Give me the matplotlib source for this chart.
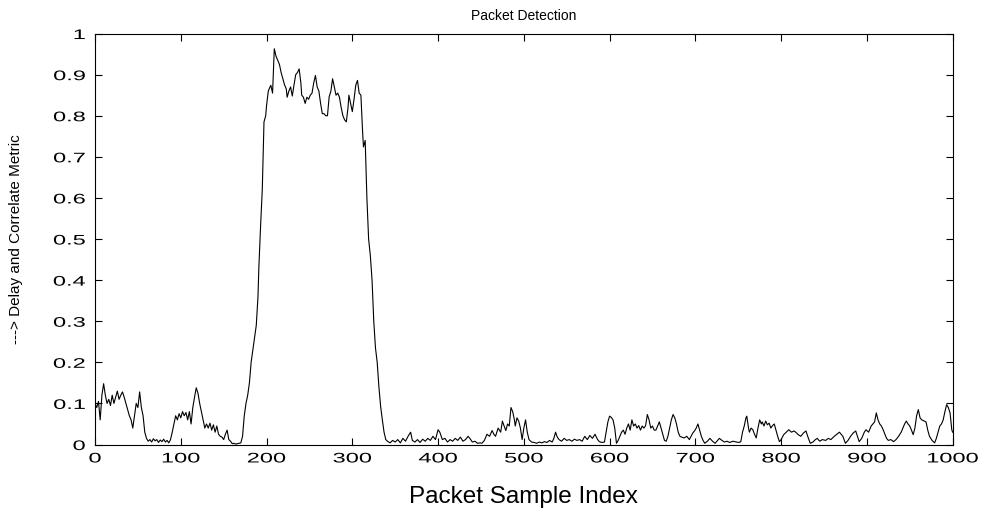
import matplotlib
matplotlib.use("Agg")
import matplotlib.pyplot as plt
from matplotlib.patheffects import AbstractPathEffect
from matplotlib.transforms import Affine2D

# sample index / delay-and-correlate metric
sample_idx = [
    0, 2, 4, 6, 8, 10, 12, 14, 16, 18, 20, 22, 24, 26, 28, 30, 32, 34, 36, 38,
    40, 42, 44, 46, 48, 50, 52, 54, 56, 58, 60, 62, 64, 66, 68, 70, 72, 74, 76, 78,
    80, 82, 84, 86, 88, 90, 92, 94, 96, 98, 100, 102, 104, 106, 108, 110, 112, 114, 116, 118,
    120, 122, 124, 126, 128, 130, 132, 134, 136, 138, 140, 142, 144, 146, 148, 150, 152, 154, 156, 158,
    160, 162, 164, 166, 168, 170, 172, 174, 176, 178, 180, 182, 184, 186, 188, 190, 191, 193, 195, 197,
    199, 200, 202, 204, 205, 207, 209, 211, 213, 215, 217, 219, 221, 223, 224, 226, 228, 230, 232, 234,
    236, 238, 240, 241, 243, 245, 247, 249, 251, 253, 255, 257, 259, 261, 263, 265, 267, 269, 271, 273,
    275, 277, 279, 281, 283, 285, 287, 289, 291, 293, 295, 296, 298, 300, 302, 304, 306, 308, 310, 312,
    313, 315, 317, 319, 321, 323, 325, 327, 329, 331, 333, 335, 337, 339, 341, 344, 347, 350, 353, 356,
    359, 362, 365, 368, 370, 373, 376, 379, 382, 385, 388, 391, 394, 397, 400, 402, 405, 408, 411, 414,
    417, 420, 423, 426, 429, 432, 435, 437, 440, 443, 446, 449, 451, 454, 457, 460, 463, 465, 467, 470,
    473, 475, 477, 479, 481, 483, 485, 487, 489, 490, 492, 494, 496, 498, 500, 502, 504, 506, 509, 512,
    515, 518, 521, 524, 527, 530, 533, 535, 537, 539, 541, 544, 547, 550, 553, 556, 559, 562, 565, 568,
    571, 574, 577, 580, 583, 586, 588, 591, 594, 596, 598, 600, 602, 604, 606, 608, 610, 612, 614, 616,
    618, 620, 622, 624, 626, 628, 630, 632, 634, 636, 638, 640, 642, 644, 646, 648, 650, 652, 654, 656,
    658, 660, 662, 664, 666, 668, 670, 672, 674, 676, 678, 680, 682, 684, 687, 690, 693, 695, 697, 699,
    701, 703, 705, 707, 709, 711, 714, 717, 720, 723, 726, 728, 731, 734, 737, 740, 744, 748, 751, 753,
    755, 757, 759, 760, 762, 763, 765, 767, 769, 771, 773, 775, 777, 778, 780, 782, 784, 786, 788, 790,
    792, 794, 796, 798, 800, 803, 806, 809, 812, 815, 817, 820, 823, 826, 829, 831, 834, 837, 840, 842,
    845, 848, 852, 855, 858, 862, 865, 868, 870, 872, 875, 878, 881, 884, 887, 889, 891, 894, 897, 899,
    902, 905, 907, 909, 911, 913, 915, 917, 919, 921, 923, 925, 928, 931, 934, 937, 940, 942, 944, 946,
    948, 950, 952, 954, 956, 958, 960, 962, 964, 966, 969, 971, 973, 976, 979, 981, 983, 985, 987, 989,
    991, 993, 995, 997, 999, 1000,
]
metric = [
    0.100, 0.090, 0.105, 0.060, 0.120, 0.148, 0.120, 0.100, 0.110, 0.095, 0.120, 0.100, 0.115, 0.130, 0.110, 0.120, 0.128, 0.115, 0.100, 0.085,
    0.070, 0.060, 0.040, 0.070, 0.100, 0.090, 0.128, 0.090, 0.070, 0.030, 0.015, 0.008, 0.012, 0.006, 0.014, 0.009, 0.012, 0.005, 0.011, 0.007,
    0.013, 0.006, 0.010, 0.004, 0.012, 0.030, 0.050, 0.070, 0.060, 0.075, 0.065, 0.080, 0.070, 0.078, 0.060, 0.080, 0.050, 0.090, 0.115, 0.138,
    0.125, 0.100, 0.080, 0.060, 0.040, 0.050, 0.040, 0.052, 0.035, 0.048, 0.030, 0.045, 0.025, 0.020, 0.018, 0.012, 0.025, 0.035, 0.012, 0.008,
    0.002, 0.003, 0.001, 0.002, 0.003, 0.004, 0.020, 0.070, 0.100, 0.120, 0.150, 0.200, 0.230, 0.260, 0.290, 0.360, 0.430, 0.530, 0.620, 0.785,
    0.800, 0.825, 0.860, 0.870, 0.874, 0.855, 0.963, 0.945, 0.935, 0.925, 0.905, 0.890, 0.875, 0.865, 0.845, 0.860, 0.870, 0.848, 0.875, 0.900,
    0.905, 0.914, 0.880, 0.850, 0.845, 0.830, 0.845, 0.840, 0.850, 0.855, 0.880, 0.898, 0.870, 0.860, 0.830, 0.805, 0.805, 0.800, 0.800, 0.846,
    0.860, 0.890, 0.870, 0.850, 0.855, 0.845, 0.820, 0.800, 0.790, 0.785, 0.820, 0.850, 0.830, 0.810, 0.840, 0.874, 0.886, 0.855, 0.850, 0.760,
    0.724, 0.740, 0.600, 0.500, 0.460, 0.400, 0.300, 0.235, 0.200, 0.140, 0.093, 0.060, 0.030, 0.012, 0.008, 0.004, 0.010, 0.006, 0.012, 0.004,
    0.015, 0.008, 0.020, 0.030, 0.010, 0.006, 0.012, 0.005, 0.013, 0.008, 0.015, 0.010, 0.020, 0.012, 0.036, 0.030, 0.012, 0.015, 0.006, 0.012,
    0.008, 0.015, 0.010, 0.018, 0.008, 0.012, 0.020, 0.015, 0.006, 0.008, 0.003, 0.004, 0.003, 0.010, 0.025, 0.020, 0.034, 0.025, 0.020, 0.040,
    0.030, 0.057, 0.045, 0.034, 0.050, 0.045, 0.090, 0.080, 0.060, 0.045, 0.065, 0.057, 0.040, 0.012, 0.040, 0.060, 0.030, 0.012, 0.006, 0.005,
    0.003, 0.006, 0.004, 0.007, 0.005, 0.010, 0.006, 0.015, 0.030, 0.018, 0.012, 0.008, 0.015, 0.010, 0.012, 0.008, 0.013, 0.010, 0.012, 0.008,
    0.020, 0.012, 0.022, 0.015, 0.025, 0.012, 0.007, 0.005, 0.006, 0.030, 0.055, 0.069, 0.066, 0.060, 0.040, 0.003, 0.010, 0.020, 0.030, 0.035,
    0.025, 0.040, 0.050, 0.035, 0.060, 0.045, 0.050, 0.040, 0.046, 0.035, 0.045, 0.040, 0.046, 0.073, 0.060, 0.040, 0.045, 0.035, 0.035, 0.045,
    0.055, 0.040, 0.025, 0.010, 0.008, 0.020, 0.040, 0.060, 0.073, 0.065, 0.050, 0.030, 0.020, 0.018, 0.016, 0.020, 0.012, 0.020, 0.028, 0.033,
    0.040, 0.050, 0.035, 0.020, 0.010, 0.003, 0.008, 0.015, 0.008, 0.003, 0.010, 0.015, 0.010, 0.006, 0.008, 0.005, 0.008, 0.006, 0.005, 0.007,
    0.030, 0.045, 0.065, 0.069, 0.040, 0.030, 0.040, 0.036, 0.025, 0.016, 0.040, 0.060, 0.050, 0.055, 0.045, 0.057, 0.048, 0.052, 0.040, 0.046,
    0.050, 0.035, 0.020, 0.007, 0.012, 0.024, 0.030, 0.036, 0.030, 0.033, 0.030, 0.024, 0.020, 0.028, 0.033, 0.020, 0.003, 0.006, 0.012, 0.015,
    0.008, 0.012, 0.010, 0.015, 0.012, 0.020, 0.025, 0.030, 0.025, 0.020, 0.003, 0.010, 0.020, 0.028, 0.033, 0.020, 0.007, 0.015, 0.030, 0.036,
    0.030, 0.045, 0.050, 0.055, 0.077, 0.060, 0.050, 0.045, 0.036, 0.025, 0.015, 0.010, 0.012, 0.007, 0.012, 0.020, 0.030, 0.040, 0.050, 0.057,
    0.050, 0.045, 0.035, 0.024, 0.040, 0.070, 0.085, 0.065, 0.060, 0.058, 0.055, 0.035, 0.020, 0.010, 0.004, 0.015, 0.030, 0.045, 0.050, 0.060,
    0.080, 0.097, 0.090, 0.077, 0.036, 0.030,
]

x_ticks = [0, 100, 200, 300, 400, 500, 600, 700, 800, 900, 1000]
y_ticks = [0, 0.1, 0.2, 0.3, 0.4, 0.5, 0.6, 0.7, 0.8, 0.9, 1]
y_tick_labels = ["0", "0.1", "0.2", "0.3", "0.4", "0.5", "0.6", "0.7", "0.8", "0.9", "1"]


class Widen(AbstractPathEffect):
    """Stretch text glyphs horizontally, keeping the centre or right edge fixed."""

    def __init__(self, sx, keep="center"):
        super().__init__()
        self.sx = sx
        self.keep = keep

    def draw_path(self, renderer, gc, tpath, affine, rgbFace=None):
        ext = tpath.get_extents()
        x0 = ext.x1 if self.keep == "right" else 0.5 * (ext.x0 + ext.x1)
        t = Affine2D().translate(-x0, 0).scale(self.sx, 1).translate(x0, 0) + affine
        renderer.draw_path(gc, tpath, t, rgbFace)


plt.rcParams["font.family"] = ["Liberation Sans", "DejaVu Sans"]

fig = plt.figure(figsize=(9.88, 5.12), dpi=100)
ax = fig.add_axes([0.0962, 0.1318, 0.868, 0.8027])

ax.plot(sample_idx, metric, color="black", linewidth=0.8)

ax.set_xlim(0, 1000)
ax.set_ylim(0, 1)
ax.set_xticks(x_ticks)
ax.set_yticks(y_ticks)
ax.set_yticklabels(y_tick_labels)
ax.tick_params(direction="in", length=5, width=0.8, top=True, right=True,
               labelsize=10)
ax.tick_params(axis="x", pad=5)
ax.tick_params(axis="y", pad=7)
for s in ax.spines.values():
    s.set_linewidth(0.8)

for t in ax.xaxis.get_major_ticks():
    t.label1.set_path_effects([Widen(1.7, "center")])
for t in ax.yaxis.get_major_ticks():
    t.label1.set_path_effects([Widen(1.7, "right")])

ax.set_title("Packet Detection", fontsize=10, pad=10)
ax.set_xlabel("Packet Sample Index", fontsize=17.5, labelpad=15)
ax.set_ylabel("---> Delay and Correlate Metric", fontsize=11)
ax.yaxis.set_label_coords(-0.084, 0.5)

fig.savefig("out.png", dpi=100)
